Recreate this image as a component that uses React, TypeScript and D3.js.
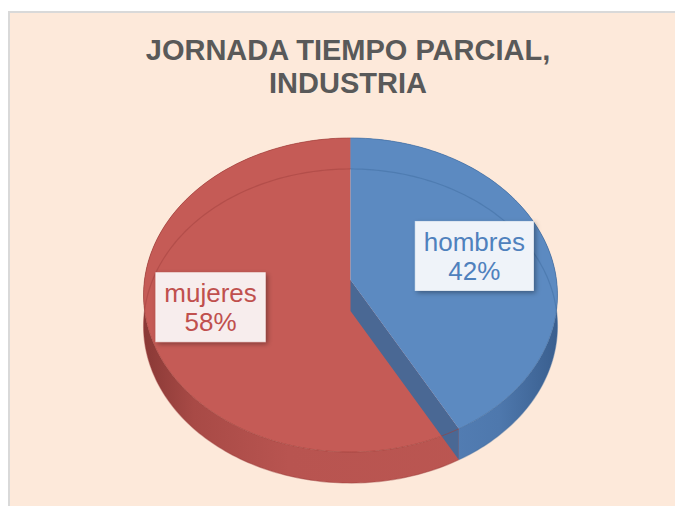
import React, { useEffect, useRef } from 'react';
import * as d3 from 'd3';

// chart data
const categories = ['hombres', 'mujeres'];
const shares = [42, 58];
const titleLines = ['JORNADA TIEMPO PARCIAL,', 'INDUSTRIA'];

// layout
const W = 675;
const H = 506;
const CX = 350.5;
const CY = 280;
const RX = 206;
const RY = 155.6;
const P = 0.0955; // perspective strength
const DEPTH = 31;
const LABEL_R = [0.63, 0.69];

const topFill = ['#5C8AC1', '#C55B56'];
const edgeStroke = ['#3F6A9E', '#9E3F3B'];
const textFill = ['#4F81BD', '#C0504D'];
const boxFill = ['#EFF3F9', '#F7EDED'];

// project a point of the disk (angle from 12 o'clock, clockwise) onto the screen
const proj = (a: number, r: number, dy = 0): [number, number] => {
  const u = r * Math.cos(a);
  const s = 1 / (1 + P * u);
  return [CX + RX * r * Math.sin(a) * s, CY - RY * u * s + dy];
};

const arcPts = (a0: number, a1: number, r: number, dy = 0) => {
  const n = Math.max(2, Math.ceil(Math.abs(a1 - a0) / 0.02));
  return d3.range(n + 1).map(i => proj(a0 + ((a1 - a0) * i) / n, r, dy));
};

const App = () => {
  const svgRef = useRef<SVGSVGElement>(null);

  useEffect(() => {
    const svg = d3.select(svgRef.current);
    svg.selectAll('*').remove();

    const line = d3.line();
    const pie = d3.pie<number>().sort(null).value(d => d);
    const arcs = pie(shares);

    const defs = svg.append('defs');

    const redWall = defs.append('linearGradient')
      .attr('id', 'redWall')
      .attr('gradientUnits', 'userSpaceOnUse')
      .attr('x1', CX - RX).attr('x2', CX + RX).attr('y1', 0).attr('y2', 0);
    [[0, '#8A3936'], [0.12, '#A84A46'], [0.35, '#B85450'], [1, '#BC5752']].forEach(([o, c]) =>
      redWall.append('stop').attr('offset', o as number).attr('stop-color', c as string));

    const blueWall = defs.append('linearGradient')
      .attr('id', 'blueWall')
      .attr('gradientUnits', 'userSpaceOnUse')
      .attr('x1', CX - RX).attr('x2', CX + RX).attr('y1', 0).attr('y2', 0);
    [[0, '#5A86BC'], [0.6, '#5883BA'], [0.86, '#4E78AD'], [1, '#3A5F8F']].forEach(([o, c]) =>
      blueWall.append('stop').attr('offset', o as number).attr('stop-color', c as string));

    const shadow = defs.append('filter')
      .attr('id', 'shadow')
      .attr('x', '-20%').attr('y', '-20%').attr('width', '140%').attr('height', '150%');
    shadow.append('feDropShadow')
      .attr('dx', 2).attr('dy', 2).attr('stdDeviation', 2.5)
      .attr('flood-color', '#000').attr('flood-opacity', 0.35);

    // frame
    svg.append('rect')
      .attr('x', 9).attr('y', 12)
      .attr('width', W + 20).attr('height', H + 20)
      .attr('fill', '#FDE9DA')
      .attr('stroke', '#D9D9D9')
      .attr('stroke-width', 2);

    // title
    svg.append('text')
      .attr('x', 348)
      .attr('y', 60)
      .attr('text-anchor', 'middle')
      .attr('font-family', '"Liberation Sans", Arial, sans-serif')
      .attr('font-weight', 'bold')
      .attr('font-size', 29)
      .attr('fill', '#595959')
      .selectAll('tspan')
      .data(titleLines)
      .join('tspan')
      .attr('x', 348)
      .attr('dy', (d, i) => (i === 0 ? 0 : 33))
      .text(d => d);

    const g = svg.append('g');

    // side walls
    arcs.forEach((a, i) => {
      const top = arcPts(a.startAngle, a.endAngle, 1);
      const bottom = arcPts(a.startAngle, a.endAngle, 1, DEPTH).reverse();
      g.append('path')
        .attr('d', line([...top, ...bottom]) + 'Z')
        .attr('fill', i === 0 ? 'url(#blueWall)' : 'url(#redWall)');
    });

    const topPath = (a: d3.PieArcDatum<number>) =>
      line([proj(0, 0), ...arcPts(a.startAngle, a.endAngle, 1)]) + 'Z';

    // red top face
    g.append('path')
      .attr('d', topPath(arcs[1]))
      .attr('fill', topFill[1]);

    // cut face of the blue slice
    const ae = arcs[0].endAngle;
    g.append('path')
      .attr('d', line([proj(ae, 0), proj(ae, 1), proj(ae, 1, DEPTH), proj(ae, 0, DEPTH)]) + 'Z')
      .attr('fill', '#4A6894');

    // blue top face
    g.append('path')
      .attr('d', topPath(arcs[0]))
      .attr('fill', topFill[0]);

    // edges: top rim and the bottom rim seen through
    arcs.forEach((a, i) => {
      g.append('path')
        .attr('d', line(arcPts(a.startAngle, a.endAngle, 1, DEPTH)))
        .attr('fill', 'none')
        .attr('stroke', edgeStroke[i])
        .attr('stroke-opacity', 0.45)
        .attr('stroke-width', 1.2);
      g.append('path')
        .attr('d', line(arcPts(a.startAngle, a.endAngle, 1)))
        .attr('fill', 'none')
        .attr('stroke', edgeStroke[i])
        .attr('stroke-opacity', 0.6)
        .attr('stroke-width', 1);
    });

    // data labels
    arcs.forEach((a, i) => {
      const mid = (a.startAngle + a.endAngle) / 2;
      const [lx, ly] = proj(mid, LABEL_R[i]);
      const lg = svg.append('g');
      const rect = lg.append('rect')
        .attr('fill', boxFill[i])
        .attr('stroke', '#FFFFFF')
        .attr('stroke-opacity', 0.6)
        .attr('filter', 'url(#shadow)');
      const txt = lg.append('text')
        .attr('text-anchor', 'middle')
        .attr('font-family', '"Liberation Sans", Arial, sans-serif')
        .attr('font-size', 26)
        .attr('fill', textFill[i]);
      txt.append('tspan').attr('x', lx).attr('y', ly - 5.2).text(categories[i]);
      txt.append('tspan').attr('x', lx).attr('y', ly + 23.8).text(`${shares[i]}%`);
      const bw = (txt.node() as SVGTextElement).getBBox().width + 17;
      rect
        .attr('x', lx - bw / 2)
        .attr('y', ly - 34.5)
        .attr('width', bw)
        .attr('height', 69);
    });
  }, []);

  return (
    <svg
      ref={svgRef}
      width={W}
      height={H}
      style={{ position: 'fixed', left: 0, top: 0, background: '#FFFFFF' }}
    />
  );
};

export default App;
